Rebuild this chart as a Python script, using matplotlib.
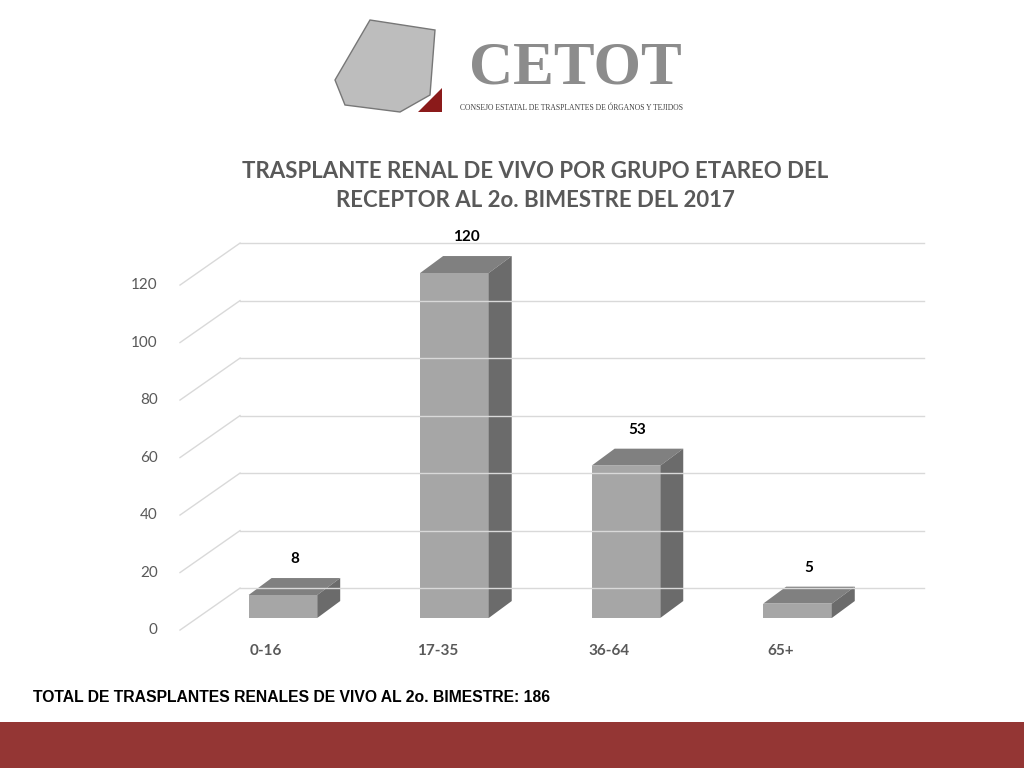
import matplotlib
matplotlib.use("Agg")
import matplotlib.pyplot as plt
from matplotlib.patches import Polygon, Rectangle

categories = ["0-16", "17-35", "36-64", "65+"]
values = [8, 120, 53, 5]
yticks = [0, 20, 40, 60, 80, 100, 120]
title = "TRASPLANTE RENAL DE VIVO POR GRUPO ETAREO DEL\nRECEPTOR AL 2o. BIMESTRE DEL 2017"
footer = "TOTAL DE TRASPLANTES RENALES DE VIVO AL 2o. BIMESTRE: 186"

W, H = 1024, 768
fig = plt.figure(figsize=(10.24, 7.68), dpi=100)
fig.patch.set_facecolor("white")

ax_l, ax_r, ax_b, ax_t = 180, 934.7, 646.75, 244.25
ax = fig.add_axes([ax_l / W, 1 - ax_b / H, (ax_r - ax_l) / W, (ax_b - ax_t) / H])
ax.set_xlim(-0.6, 3.8)
ax.set_ylim(-10, 130)
ax.axis("off")

gcol = "#d9d9d9"
back_off = 10.4
front_off = -4.2
xb = -0.25
for v in yticks:
    ax.plot([-0.6, xb], [v + front_off, v + back_off], color=gcol, lw=1, clip_on=False)
    ax.plot([xb, 3.74], [v + back_off, v + back_off], color=gcol, lw=1, clip_on=False)
    ax.text(-0.73, v + front_off, str(v), ha="right", va="center", fontsize=11,
            color="#595959", family="Lato", clip_on=False)

bw = 0.4
dx, dy = 0.134, 5.9
for i, (c, v) in enumerate(zip(categories, values)):
    x0, x1 = i - bw / 2, i + bw / 2
    ax.add_patch(Polygon([(x0, 0), (x1, 0), (x1, v), (x0, v)], closed=True,
                         facecolor="#a6a6a6", edgecolor="none", clip_on=False))
    ax.add_patch(Polygon([(x0, v), (x1, v), (x1 + dx, v + dy), (x0 + dx, v + dy)], closed=True,
                         facecolor="#808080", edgecolor="none", clip_on=False))
    ax.add_patch(Polygon([(x1, 0), (x1 + dx, dy), (x1 + dx, v + dy), (x1, v)], closed=True,
                         facecolor="#6b6b6b", edgecolor="none", clip_on=False))
    ax.text(i + dx / 2, v + dy + 6.5, str(v), ha="center", va="center", fontsize=11,
            fontweight="bold", color="black", family="Lato", clip_on=False)
    ax.text(i - 0.1, -11.5, c, ha="center", va="center", fontsize=11,
            fontweight="bold", color="#595959", family="Lato", clip_on=False)

fig.text(535 / W, 1 - 186 / H, title, ha="center", va="center", fontsize=16,
         fontweight="bold", color="#595959", family="Lato", linespacing=1.45)
fig.text(33 / W, 1 - 697 / H, footer, ha="left", va="center", fontsize=11.3,
         fontweight="bold", color="black", family="Liberation Sans")

fig.patches.append(Rectangle((0, 0), 1, 46 / H, transform=fig.transFigure,
                             facecolor="#943634", edgecolor="none"))
fig.text(575 / W, 1 - 68 / H, "CETOT", ha="center", va="center", fontsize=44,
         fontweight="bold", color="#8c8c8c", family="Liberation Serif")
fig.text(572 / W, 1 - 108 / H, "CONSEJO ESTATAL DE TRASPLANTES DE ÓRGANOS Y TEJIDOS",
         ha="center", va="center", fontsize=5.5, color="#404040", family="Liberation Serif")
fig.patches.append(Polygon([(418 / W, 1 - 112 / H), (442 / W, 1 - 88 / H), (442 / W, 1 - 112 / H)],
                           closed=True, transform=fig.transFigure, facecolor="#8b1a1a"))
fig.patches.append(Polygon([(335 / W, 1 - 80 / H), (370 / W, 1 - 20 / H), (435 / W, 1 - 30 / H),
                            (430 / W, 1 - 95 / H), (400 / W, 1 - 112 / H), (345 / W, 1 - 105 / H)],
                           closed=True, transform=fig.transFigure, facecolor="#bdbdbd", edgecolor="#777777"))

fig.savefig("out.png", dpi=100)
